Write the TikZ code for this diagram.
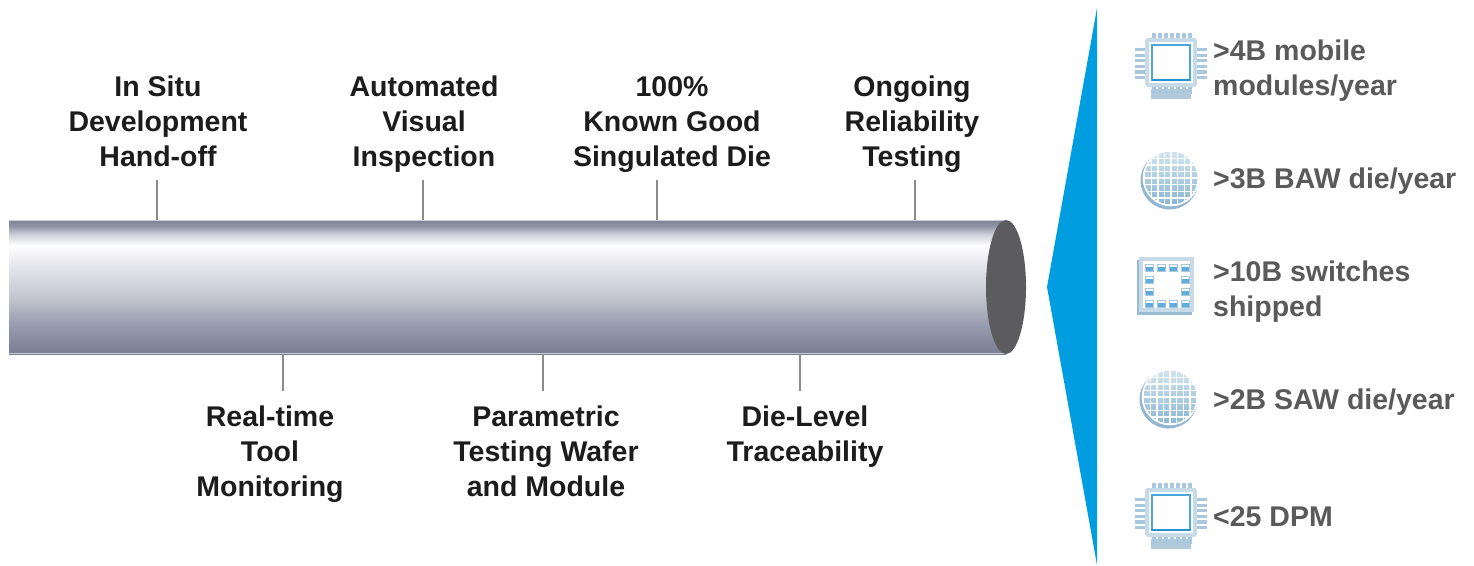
\documentclass[tikz,border=0pt]{standalone}
\usepackage{fontspec}
\setmainfont{Liberation Sans}

% palette
\definecolor{labc}{HTML}{1C1C1C}
\definecolor{statc}{HTML}{5A5A5A}
\definecolor{tickc}{HTML}{8C8C8C}
\definecolor{capc}{HTML}{5C5C5E}
\definecolor{wedgec}{RGB}{0,157,224}
\definecolor{pipeedge}{HTML}{C9CBD5}
\definecolor{pA}{HTML}{7A7F95}
\definecolor{pB}{HTML}{858A9F}
\definecolor{pC}{HTML}{9EA2B3}
\definecolor{pD}{HTML}{BFC2CC}
\definecolor{pE}{HTML}{E2E3E9}
\definecolor{pF}{HTML}{F7F7F9}
\definecolor{pG}{HTML}{D0D2DA}
\definecolor{pH}{HTML}{8F93A6}
\definecolor{pI}{HTML}{7C8196}
\definecolor{iconframe}{HTML}{C6DAE7}
\definecolor{iconpin}{HTML}{A9C8DD}
\definecolor{iconline}{HTML}{4AA6DC}
\definecolor{iconblue}{HTML}{2A90D2}
\definecolor{iconshadow}{HTML}{6F9FC0}
\definecolor{wafertop}{HTML}{D3E5F0}
\definecolor{waferbot}{HTML}{8AB6D2}

% cylinder body: dark rim, bright highlight near the top, darker towards the bottom
% (the filled path occupies the band 25bp..75bp of the shading)
\pgfdeclareverticalshading{pipe}{100bp}{%
  color(0bp)=(pA); color(25bp)=(pA); color(30bp)=(pB); color(37.5bp)=(pC);
  color(45bp)=(pD); color(56.5bp)=(pE); color(63.5bp)=(pF); color(65.5bp)=(white);
  color(69.5bp)=(pG); color(72.75bp)=(pH); color(75bp)=(pI); color(100bp)=(pI)}

\newcommand\lblstack[1]{\begin{tabular}[t]{@{}c@{}}#1\end{tabular}}
\newcommand\statstack[1]{\begin{tabular}[t]{@{}l@{}}#1\end{tabular}}

\tikzset{
  lab/.style={font=\fontsize{28.5}{35}\selectfont\bfseries, text=labc, inner sep=0pt, anchor=base},
  stat/.style={font=\fontsize{28.5}{35}\selectfont\bfseries, text=statc, inner sep=0pt, anchor=base west},
  tickline/.style={draw=tickc, line width=2pt},
  chipicon/.pic={
    % shadow under the lower pins
    \fill[iconshadow, opacity=0.55] (-20,27) rectangle (20,37);
    % pins
    \foreach \i in {0,...,5}{
      \fill[iconpin] (-36,-14+\i*5.6) rectangle (-26,-14+\i*5.6+3.2);
      \fill[iconpin] (26,-14+\i*5.6) rectangle (36,-14+\i*5.6+3.2);
    }
    \foreach \i in {0,...,6}{
      \fill[iconpin] (-19+\i*6,-29) rectangle (-19+\i*6+3.6,-23);
      \fill[iconpin] (-19+\i*6,24) rectangle (-19+\i*6+3.6,32);
    }
    % package and die
    \fill[iconframe, rounded corners=3] (-26,-24) rectangle (26,25);
    \fill[white] (-22,-20) rectangle (22,21);
    \draw[iconline, line width=1.3] (-19,-17) rectangle (19,18);
    \draw[iconblue, line width=2.2] (-19,18) -- (19,18);
  },
  wafericon/.pic={
    \fill[iconshadow, opacity=0.75] (-1.5,2.5) circle [radius=29];
    \shade[top color=wafertop, bottom color=waferbot] (0,0) circle [radius=28];
    \begin{scope}
      \clip (0,0) circle [radius=28];
      \foreach \k in {-4,...,4}{
        \draw[white, line width=1.4] (\k*6.6,-30) -- (\k*6.6,30);
        \draw[white, line width=1.4] (-30,\k*6.6) -- (30,\k*6.6);
      }
    \end{scope}
    \draw[white, line width=1.6] (0,0) circle [radius=27.5];
  },
  switchicon/.pic={
    \fill[iconshadow, opacity=0.7] (-29,-25) rectangle (26,30);
    \fill[iconframe] (-27,-28) rectangle (28,27);
    \fill[white] (-23,-24) rectangle (24,23);
    \foreach \p in {(-21,-21),(-9,-21),(3,-21),(15,-21),
                    (-21,-9),(15,-9),(-21,3),(15,3),
                    (-21,15),(-9,15),(3,15),(15,15)}{
      \begin{scope}[shift={\p}]
        \fill[iconblue!75] (0,3) rectangle (8,7);
        \draw[iconpin, line width=0.6] (0,0) rectangle (8,7);
      \end{scope}
    }
  }
}

\begin{document}
\begin{tikzpicture}[x=1pt,y=-1pt]
\useasboundingbox (0,0) rectangle (1474,565);

% the cylinder
\shade[shading=pipe] (9,220) rectangle (1006,354);
\draw[pipeedge, line width=1.4] (9,220.7) -- (1006,220.7);
\draw[pipeedge, line width=1.6] (9,353.5) -- (1006,353.5);
\fill[capc] (1006,287) ellipse [x radius=20, y radius=67];

% blue wedge
\fill[wedgec] (1097,8) -- (1047,287) -- (1097,565) -- cycle;

% milestones above the cylinder
\node[lab] (insitu) at (158,96) {\lblstack{In Situ\\Development\\Hand-off}};
\node[lab] (visual) at (424,96) {\lblstack{Automated\\Visual\\Inspection}};
\node[lab] (kgd)    at (672,96) {\lblstack{100\%\\Known Good\\Singulated Die}};
\node[lab] (relia)  at (912,96) {\lblstack{Ongoing\\Reliability\\Testing}};

% milestones below the cylinder
\node[lab] (rtmon)  at (270,426) {\lblstack{Real-time\\Tool\\Monitoring}};
\node[lab] (param)  at (546,426) {\lblstack{Parametric\\Testing Wafer\\and Module}};
\node[lab] (trace)  at (805,426) {\lblstack{Die-Level\\Traceability}};

% tick marks
\coordinate (u1a) at (157,220); \coordinate (u1b) at (157,180);
\coordinate (u2a) at (423,220); \coordinate (u2b) at (423,180);
\coordinate (u3a) at (657,220); \coordinate (u3b) at (657,180);
\coordinate (u4a) at (915,220); \coordinate (u4b) at (915,180);
\coordinate (d1a) at (283,354); \coordinate (d1b) at (283,391);
\coordinate (d2a) at (543,354); \coordinate (d2b) at (543,391);
\coordinate (d3a) at (800,354); \coordinate (d3b) at (800,391);
\foreach \t in {u1,u2,u3,u4,d1,d2,d3}
  \draw[tickline] (\t a) -- (\t b);

% volume figures
\pic at (1171,62) {chipicon};
\pic at (1171,178) {wafericon};
\pic at (1166,285) {switchicon};
\pic at (1170,397) {wafericon};
\pic at (1171,512) {chipicon};

\node[stat] (mobile) at (1213,60)  {\statstack{>4B mobile\\modules/year}};
\node[stat] (baw)    at (1213,188) {>3B BAW die/year};
\node[stat] (sw)     at (1213,281) {\statstack{>10B switches\\shipped}};
\node[stat] (saw)    at (1213,409) {>2B SAW die/year};
\node[stat] (dpm)    at (1213,526) {<25 DPM};
\end{tikzpicture}
\end{document}
